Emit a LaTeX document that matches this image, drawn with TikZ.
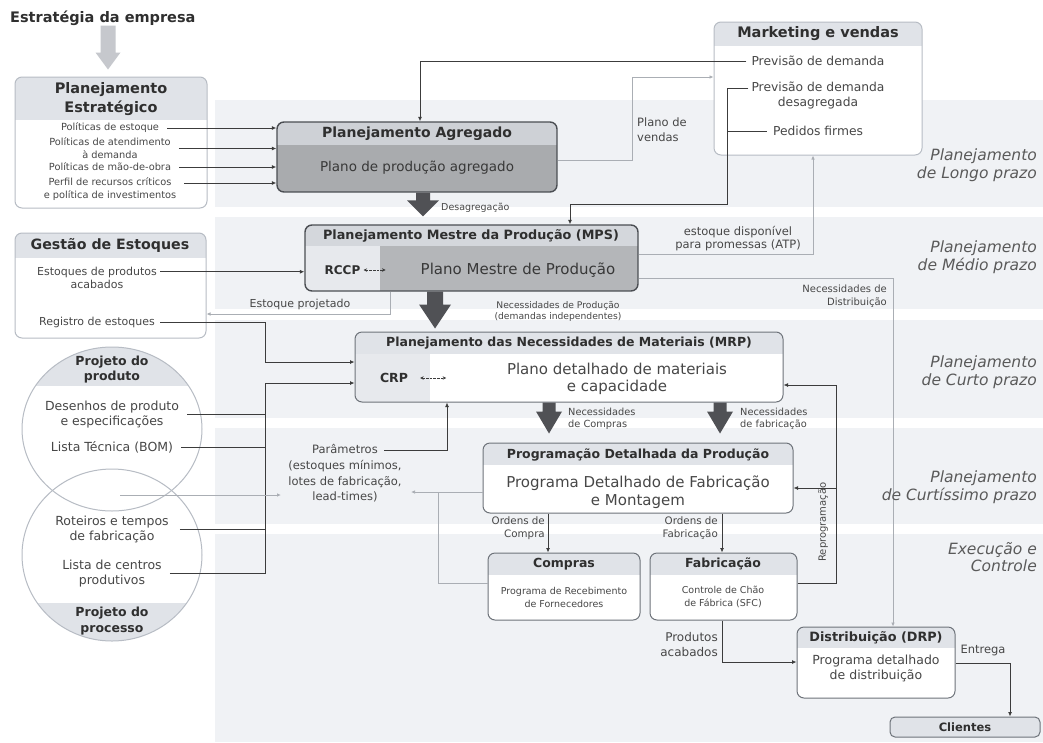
\documentclass[tikz,border=0pt]{standalone}
\usepackage{fontspec}
\setmainfont{DejaVu Sans}
\usetikzlibrary{arrows.meta,calc,fit}

\definecolor{inkc}{HTML}{2F2F2F}
\definecolor{textc}{HTML}{474747}
\definecolor{darktextc}{HTML}{383838}
\definecolor{sidec}{HTML}{5A5A5A}
\definecolor{edgec}{HTML}{6E737A}
\definecolor{edgedarkc}{HTML}{4B4E53}
\definecolor{palec}{HTML}{B7BCC4}
\definecolor{hdrpale}{HTML}{E0E3E8}
\definecolor{sidepale}{HTML}{E7E9ED}
\definecolor{hdrgray}{HTML}{CED1D6}
\definecolor{bodygray}{HTML}{A9ABAE}
\definecolor{hdrgraytwo}{HTML}{D4D7DC}
\definecolor{bodygraytwo}{HTML}{B4B6B9}
\definecolor{bandc}{HTML}{F0F2F5}
\definecolor{fatc}{HTML}{505155}
\definecolor{fatlight}{HTML}{C6C8CD}
\definecolor{wirec}{HTML}{3C3C3C}
\definecolor{faintc}{HTML}{AAAEB4}

\newcommand\fz[2]{\fontsize{#1}{#2}\selectfont}
% rounded panel: header band and body band, clipped to the rounded outline
\newcommand\panelfill[7]{%
  \begin{scope}
    \clip[rounded corners=7pt] (#1,#2) rectangle (#3,#4);
    \fill[#6] (#1,#2) rectangle (#3,#5);
    \fill[#7] (#1,#5) rectangle (#3,#4);
  \end{scope}}
% thick block arrow: source, target, x coordinate, gap, head length, half body, half head, colour
\newcommand\fatarrow[8]{%
  \fill[#8] ($(#1.south -| #3)+(-#6,0)$) -- ($(#1.south -| #3)+(#6,0)$)
    -- ($(#2.north -| #3)+(#6,-#4-#5)$) -- ($(#2.north -| #3)+(#7,-#4-#5)$)
    -- ($(#2.north -| #3)+(0,-#4)$) -- ($(#2.north -| #3)+(-#7,-#4-#5)$)
    -- ($(#2.north -| #3)+(-#6,-#4-#5)$) -- cycle;}

\begin{document}
\begin{tikzpicture}[x=1pt,y=-1pt,
  wire/.style={draw=wirec, line width=0.85pt, -{Latex[length=4.5pt,width=4pt]}},
  faintwire/.style={draw=faintc, line width=0.75pt, -{Latex[length=4pt,width=3.5pt]}},
  frame/.style={inner sep=0pt, rounded corners=7pt, line width=1pt, draw=edgec},
  darkframe/.style={frame, draw=edgedarkc, line width=1.4pt},
  paleframe/.style={frame, draw=palec, line width=1pt},
  hdtxt/.style={inner sep=0pt, align=center, text=inkc},
  bodytxt/.style={inner sep=0pt, align=center, text=textc},
  note/.style={inner sep=0pt, align=center, text=textc},
  sidelbl/.style={inner sep=0pt, align=right, anchor=east, text=sidec, font=\itshape\fz{15.5}{17.5}},
  twoway/.style={{Stealth[length=3.5pt,width=3.5pt]}-{Stealth[length=3.5pt,width=3.5pt]}, draw=wirec, line width=0.6pt, dash pattern=on 2.5pt off 1.2pt}
]
\useasboundingbox (0,0) rectangle (1043,742);
\fill[white] (0,0) rectangle (1043,742);

% horizon bands
\foreach \a/\b in {100/207,217/309,320/418,428/524,534/742}
  \fill[bandc] (215,\a) rectangle (1043,\b);

% ---------- strategy ----------
\node[hdtxt, anchor=west, font=\bfseries\fz{14.5}{17}] (strat) at (10,18) {Estratégia da empresa};

\panelfill{15}{77}{207}{208}{120}{hdrpale}{white}
\node[paleframe, fit={(15,77)(207,208)}] (pe) {};
\node[hdtxt, font=\bfseries\fz{14.5}{19}] (pet) at (111,99.5) {Planejamento\\Estratégico};
\node[bodytxt, font=\fz{9.8}{13}] (pe1) at (110,128) {Políticas de estoque};
\node[bodytxt, font=\fz{9.8}{13}] (pe2) at (110,148.5) {Políticas de atendimento\\à demanda};
\node[bodytxt, font=\fz{9.8}{13}] (pe3) at (110,167) {Políticas de mão-de-obra};
\node[bodytxt, font=\fz{9.8}{13}] (pe4) at (110,189.5) {Perfil de recursos críticos\\e política de investimentos};

% ---------- aggregate planning ----------
\panelfill{277}{122}{557}{192}{145}{hdrgray}{bodygray}
\node[darkframe, fit={(277,122)(557,192)}] (pa) {};
\node[hdtxt, font=\bfseries\fz{14}{16}] (pat) at (417,133.5) {Planejamento Agregado};
\node[bodytxt, text=darktextc, font=\fz{13.5}{16}] (pab) at (417,168) {Plano de produção agregado};

% ---------- marketing ----------
\panelfill{714}{22}{922}{155}{46}{hdrpale}{white}
\node[paleframe, fit={(714,22)(922,155)}] (mk) {};
\node[hdtxt, font=\bfseries\fz{14.5}{17}] (mkt) at (818,34) {Marketing e vendas};
\node[bodytxt, font=\fz{12.3}{15}] (mk1) at (818,61) {Previsão de demanda};
\node[bodytxt, font=\fz{12.3}{15}] (mk2) at (818,95.5) {Previsão de demanda\\desagregada};
\node[bodytxt, font=\fz{12.3}{15}] (mk3) at (818,131) {Pedidos firmes};

% ---------- master production schedule ----------
\begin{scope}
  \clip[rounded corners=7pt] (305,225) rectangle (638,291);
  \fill[hdrgraytwo] (305,225) rectangle (638,246);
  \fill[sidepale] (305,246) rectangle (380,291);
  \fill[bodygraytwo] (380,246) rectangle (638,291);
\end{scope}
\node[darkframe, fit={(305,225)(638,291)}] (mps) {};
\node[hdtxt, font=\bfseries\fz{12.8}{15}] (mpst) at (471,235.5) {Planejamento Mestre da Produção (MPS)};
\node[hdtxt, font=\bfseries\fz{12}{14}] (rccp) at (342.5,270) {RCCP};
\node[bodytxt, text=darktextc, font=\fz{15}{17}] (mpsb) at (518,270) {Plano Mestre de Produção};

% ---------- inventory management ----------
\panelfill{15}{233}{206}{338}{258}{hdrpale}{white}
\node[paleframe, fit={(15,233)(206,338)}] (ge) {};
\node[hdtxt, font=\bfseries\fz{14.2}{17}] (get) at (110,245.5) {Gestão de Estoques};
\node[bodytxt, font=\fz{11}{12.5}] (ge1) at (97,278) {Estoques de produtos\\acabados};
\node[bodytxt, font=\fz{11}{13}] (ge2) at (97,322) {Registro de estoques};

% ---------- MRP ----------
\begin{scope}
  \clip[rounded corners=7pt] (355,332) rectangle (783,402);
  \fill[hdrpale] (355,332) rectangle (783,354);
  \fill[sidepale] (355,354) rectangle (430,402);
  \fill[white] (430,354) rectangle (783,402);
\end{scope}
\node[frame, fit={(355,332)(783,402)}] (mrp) {};
\node[hdtxt, font=\bfseries\fz{12.5}{15}] (mrpt) at (569,343) {Planejamento das Necessidades de Materiais (MRP)};
\node[hdtxt, font=\bfseries\fz{12.5}{15}] (crp) at (394,378) {CRP};
\node[bodytxt, font=\fz{15}{17}] (mrpb) at (617,378.5) {Plano detalhado de materiais\\e capacidade};

% ---------- product / process design ----------
\begin{scope}
  \clip (112,429) ellipse [x radius=90pt, y radius=82pt];
  \fill[hdrpale] (20,340) rectangle (205,386);
\end{scope}
\begin{scope}
  \clip (112,555) ellipse [x radius=90pt, y radius=86pt];
  \fill[hdrpale] (20,603) rectangle (205,645);
\end{scope}
\draw[palec, line width=1pt] (112,429) ellipse [x radius=90pt, y radius=82pt];
\draw[palec, line width=1pt] (112,555) ellipse [x radius=90pt, y radius=86pt];
\node[hdtxt, font=\bfseries\fz{12.5}{15}] (pp0) at (112,369.5) {Projeto do\\produto};
\node[bodytxt, font=\fz{12.5}{15}] (pp1) at (112,414.5) {Desenhos de produto\\e especificações};
\node[bodytxt, font=\fz{12.5}{15}] (pp2) at (112,447) {Lista Técnica (BOM)};
\node[bodytxt, font=\fz{12.5}{15}] (pp3) at (112,529.5) {Roteiros e tempos\\de fabricação};
\node[bodytxt, font=\fz{12.5}{15}] (pp4) at (112,573.5) {Lista de centros\\produtivos};
\node[hdtxt, font=\bfseries\fz{12.5}{16}] (pp5) at (112,621.5) {Projeto do\\processo};

% ---------- detailed scheduling ----------
\panelfill{483}{443}{793}{513}{465}{hdrpale}{white}
\node[frame, fit={(483,443)(793,513)}] (prog) {};
\node[hdtxt, font=\bfseries\fz{12.5}{15}] (progt) at (638,454.5) {Programação Detalhada da Produção};
\node[bodytxt, font=\fz{15}{18.5}] (progb) at (638,492) {Programa Detalhado de Fabricação\\e Montagem};

\node[note, font=\fz{11.5}{15.7}] (par) at (345,473.5) {Parâmetros\\(estoques mínimos,\\lotes de fabricação,\\lead-times)};

% ---------- purchasing / manufacturing ----------
\panelfill{488}{553}{640}{620}{575}{hdrpale}{white}
\node[frame, fit={(488,553)(640,620)}] (comp) {};
\node[hdtxt, font=\bfseries\fz{12.5}{15}] (compt) at (564,564) {Compras};
\node[bodytxt, font=\fz{9.5}{13}] (compb) at (564,597) {Programa de Recebimento\\de Fornecedores};

\panelfill{650}{553}{797}{620}{575}{hdrpale}{white}
\node[frame, fit={(650,553)(797,620)}] (fab) {};
\node[hdtxt, font=\bfseries\fz{12.5}{15}] (fabt) at (723,564) {Fabricação};
\node[bodytxt, font=\fz{9.5}{13}] (fabb) at (723,597) {Controle de Chão\\de Fábrica (SFC)};

% ---------- distribution / customers ----------
\panelfill{797}{627}{955}{698}{648}{hdrpale}{white}
\node[frame, fit={(797,627)(955,698)}] (drp) {};
\node[hdtxt, font=\bfseries\fz{12.8}{15}] (drpt) at (876,638) {Distribuição (DRP)};
\node[bodytxt, font=\fz{12.5}{15}] (drpb) at (876,668.5) {Programa detalhado\\de distribuição};

\node[frame, fill=hdrpale, rounded corners=5pt, fit={(890,717)(1040,737)}] (cli) {};
\node[hdtxt, font=\bfseries\fz{11.5}{13}] (clit) at (cli.center) {Clientes};

% ---------- block arrows ----------
\coordinate (xs) at (108,0);
\fatarrow{strat}{pe}{xs}{7}{17}{7.5}{12.5}{fatlight}
\coordinate (xa) at (423,0);
\fatarrow{pa}{mps}{xa}{8}{16}{7}{16}{fatc}
\coordinate (xb) at (435,0);
\fatarrow{mps}{mrp}{xb}{3}{24}{8}{16}{fatc}
\coordinate (xc) at (549,0);
\fatarrow{mrp}{prog}{xc}{9}{22}{6.5}{13}{fatc}
\coordinate (xe) at (720,0);
\fatarrow{mrp}{prog}{xe}{9}{22}{6.5}{13}{fatc}

% ---------- connectors ----------
% strategic policies into aggregate planning
\draw[wire] ([xshift=8pt]pe1.east) -- (pe1.east -| pa.west);
\draw[wire] ([xshift=8pt]pe2.east) -- (pe2.east -| pa.west);
\draw[wire] ([xshift=8pt]pe3.east) -- (pe3.east -| pa.west);
\coordinate (pe4a) at ([xshift=8pt,yshift=6.5pt]pe4.east);
\draw[wire] (pe4a) -- (pe4a -| pa.west);

% marketing inputs
\coordinate (xpd) at (420,0);
\draw[wire] ([xshift=-5pt]mk1.west) -- (mk1.west -| xpd) -- (pa.north -| xpd);
\coordinate (jd) at (727,204);
\coordinate (jm) at (570,204);
\draw[wire] ([xshift=-3pt,yshift=7.5pt]mk2.west) -| (jd) -- (jm) -- (mps.north -| jm);
\draw[wire,-] ([xshift=-6pt]mk3.west) -- (mk3.west -| jd);

% sales plan
\coordinate (pv1) at (632,160);
\coordinate (pv2) at (632,77);
\draw[faintwire] (pa.east |- pv1) -- (pv1) -- (pv2) -- (pv2 -| mk.west);
\node[note, anchor=west, align=left, font=\fz{11.5}{15}] (pvl) at (637,129.5) {Plano de\\vendas};

% available to promise
\coordinate (atp) at (813,254);
\draw[faintwire] (mps.east |- atp) -- (atp) -- (atp |- mk.south);
\node[note, font=\fz{11.5}{13}] (atpl) at (738,239) {estoque disponível\\para promessas (ATP)};

% distribution requirements
\coordinate (nd) at (893,278);
\draw[faintwire] (mps.east |- nd) -- (nd) -- (nd |- drp.north);
\node[note, anchor=east, align=right, font=\fz{10}{13}] (ndl) at (887,296.5) {Necessidades de\\Distribuição};

\node[note, anchor=west, font=\fz{9.5}{11}] (dsl) at (441,208) {Desagregação};
\node[note, font=\fz{9.2}{11}] (npl) at (558,311.5) {Necessidades de Produção\\(demandas independentes)};

% inventory
\coordinate (ge1a) at ([xshift=3pt,yshift=6.25pt]ge1.east);
\draw[wire] (ge1a) -- (ge1a -| mps.west);
\coordinate (rx) at (265,362);
\draw[wire] ([xshift=5pt]ge2.east) -| (rx) -- (rx -| mrp.west);
\coordinate (ep) at (390,314);
\draw[faintwire] (mps.south -| ep) -- (ep) -- (ep -| ge.east);
\node[note, font=\fz{11}{13}] (epl) at (300,304) {Estoque projetado};

% RCCP / CRP links
\draw[twoway] ([xshift=3pt]rccp.east) -- ([xshift=25pt]rccp.east);
\draw[twoway] ([xshift=12pt]crp.east) -- ([xshift=38pt]crp.east);

% design data bracket
\coordinate (bt) at (265,383);
\coordinate (bb) at (265,574);
\draw[wire] (bb) -- (bt) -- (bt -| mrp.west);
\draw[wire,-] ([xshift=8pt]pp1.east) -- (pp1.east -| bt);
\draw[wire,-] ([xshift=8pt]pp2.east) -- (pp2.east -| bt);
\draw[wire,-] ([xshift=11pt]pp3.east) -- (pp3.east -| bt);
\draw[wire,-] ([xshift=8pt]pp4.east) -- (pp4.east -| bt);

% parameters
\coordinate (pm0) at (384,450);
\coordinate (pm) at (447,450);
\draw[wire] (pm0) -- (pm) -- (pm |- mrp.south);
\coordinate (lt) at (411,492);
\coordinate (cj) at (438,492);
\coordinate (cb) at (438,583);
\draw[faintwire] (cj -| prog.west) -- (lt);
\draw[faintwire,-] (cb -| comp.west) -- (cb) -- (cj);
\coordinate (ci) at (120,495);
\coordinate (ct) at (281,495);
\draw[faintwire] (ci) -- (ct);

\node[note, anchor=west, align=left, font=\fz{9.8}{12}] (ncl) at (568,419) {Necessidades\\de Compras};
\node[note, anchor=west, align=left, font=\fz{9.8}{12}] (nfl) at (740,419) {Necessidades\\de fabricação};

% orders
\coordinate (oc) at (548,0);
\draw[wire] (prog.south -| oc) -- (comp.north -| oc);
\node[note, anchor=east, align=right, font=\fz{10.3}{13.5}] (ocl) at (545,528) {Ordens de\\Compra};
\coordinate (of) at (722,0);
\draw[wire] (prog.south -| of) -- (fab.north -| of);
\node[note, anchor=east, align=right, font=\fz{10.3}{13.5}] (ofl) at (718,528) {Ordens de\\Fabricação};

% finished goods and delivery
\coordinate (pk) at (722,662);
\draw[wire] (fab.south -| pk) -- (pk) -- (pk -| drp.west);
\node[note, anchor=east, align=right, font=\fz{12}{15}] (pkl) at (718,644.5) {Produtos\\acabados};
\coordinate (en) at (1010,663);
\draw[wire] (en -| drp.east) -- (en) -- (en |- cli.north);
\node[note, font=\fz{11.5}{13}] (enl) at (983,650) {Entrega};

% rescheduling loop
\coordinate (rt) at (836,385);
\coordinate (rm) at (836,488);
\coordinate (rb) at (836,583);
\draw[wire] (rb -| fab.east) -- (rb) -- (rt) -- (rt -| mrp.east);
\draw[wire] (rm) -- (rm -| prog.east);
\node[note, rotate=90, font=\fz{10}{12}] (rpl) at (823,522) {Reprogramação};

% planning horizons
\node[sidelbl] (hl) at (1037,165) {Planejamento\\de Longo prazo};
\node[sidelbl] (hm) at (1037,257) {Planejamento\\de Médio prazo};
\node[sidelbl] (hc) at (1037,372) {Planejamento\\de Curto prazo};
\node[sidelbl] (hcc) at (1037,487) {Planejamento\\de Curtíssimo prazo};
\node[sidelbl] (hx) at (1037,557) {Execução e\\Controle};
\end{tikzpicture}
\end{document}
